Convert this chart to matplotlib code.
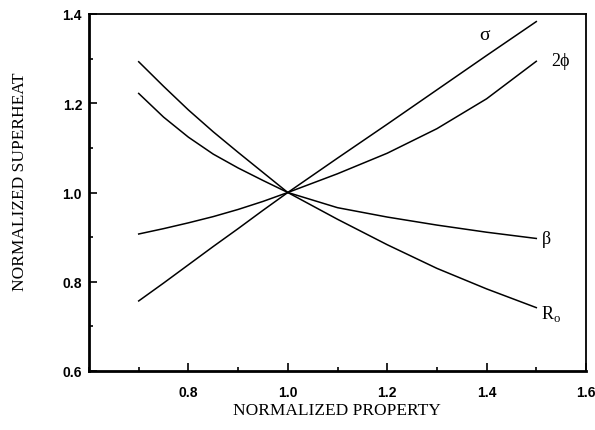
import matplotlib
matplotlib.use("Agg")
import matplotlib.pyplot as plt
from matplotlib.ticker import MultipleLocator

x = [0.70, 0.75, 0.80, 0.85, 0.90, 0.95, 1.00, 1.10, 1.20, 1.30, 1.40, 1.50]
sigma = [0.757, 0.797, 0.838, 0.879, 0.919, 0.960, 1.000, 1.077, 1.153, 1.230, 1.307, 1.383]
phi2 = [0.907, 0.919, 0.932, 0.946, 0.962, 0.980, 1.000, 1.042, 1.088, 1.143, 1.210, 1.294]
beta = [1.222, 1.169, 1.124, 1.086, 1.055, 1.027, 1.000, 0.966, 0.945, 0.927, 0.911, 0.897]
ro = [1.293, 1.238, 1.185, 1.136, 1.090, 1.045, 1.000, 0.940, 0.883, 0.830, 0.784, 0.742]

xticks = [0.8, 1.0, 1.2, 1.4, 1.6]
yticks = [0.6, 0.8, 1.0, 1.2, 1.4]

fig = plt.figure(figsize=(5.95, 4.31), dpi=100)
ax = fig.add_axes([89/595, 1-372/431, (586-89)/595, (372-15)/431])

for s in (sigma, phi2, beta, ro):
    ax.plot(x, s, color="black", lw=1.1)

ax.set_xlim(0.6, 1.6)
ax.set_ylim(0.6, 1.4)
ax.set_xticks(xticks)
ax.set_yticks(yticks)
ax.xaxis.set_minor_locator(MultipleLocator(0.1))
ax.yaxis.set_minor_locator(MultipleLocator(0.1))
ax.tick_params(which="both", direction="in", top=False, right=False, width=1.2)
ax.tick_params(which="major", length=6)
ax.tick_params(which="minor", length=3)
ax.tick_params(axis="x", pad=10)
ax.tick_params(axis="y", pad=5)
ax.set_xticklabels([f"{v:.1f}" for v in xticks], fontfamily="Liberation Sans", fontweight="bold", fontsize=10)
ax.set_yticklabels([f"{v:.1f}" for v in yticks], fontfamily="Liberation Sans", fontweight="bold", fontsize=10)

ax.spines["left"].set_linewidth(2.0)
ax.spines["bottom"].set_linewidth(2.0)
ax.spines["top"].set_linewidth(1.3)
ax.spines["right"].set_linewidth(1.3)

ser = "Liberation Serif"
fig.text(337/595, 1-411/431, "NORMALIZED PROPERTY", ha="center", va="center", fontfamily=ser, fontsize=12.5)
fig.text(20/595, 1-182/431, "NORMALIZED SUPERHEAT", ha="center", va="center", rotation=90, fontfamily=ser, fontsize=12.5)

ax.text(1.396, 1.355, "σ", ha="center", va="center", fontfamily=ser, fontsize=14)
ax.text(1.549, 1.295, "2ϕ", ha="center", va="center", fontfamily=ser, fontsize=13)
ax.text(1.521, 0.897, "β", ha="center", va="center", fontfamily=ser, fontsize=13)
ax.text(1.529, 0.730, r"R$_\mathregular{o}$", ha="center", va="center", fontfamily=ser, fontsize=13)

fig.savefig("out.png", dpi=100)
